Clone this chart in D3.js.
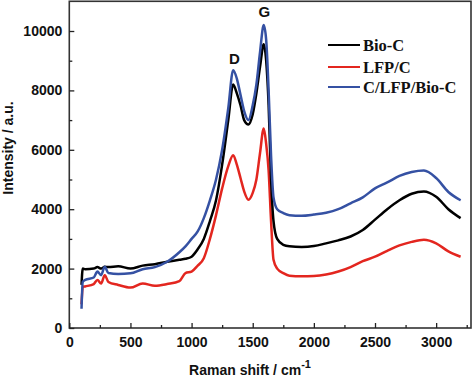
<!DOCTYPE html>
<html><head><meta charset="utf-8">
<script src="https://cdn.jsdelivr.net/npm/d3@7"></script>
<style>html,body{margin:0;padding:0;background:#fff;}</style>
</head><body>
<svg id="c" width="474" height="377"></svg>
<script>
const ramanShift = [100,110,130,200,230,260,290,320,400,500,600,700,800,900,950,1000,1050,1100,1150,1200,1250,1300,1340,1370,1400,1430,1465,1500,1530,1560,1590,1610,1630,1650,1670,1700,1750,1800,1900,2000,2100,2200,2300,2400,2500,2600,2700,2800,2900,3000,3100,3200];
const bioC = [1450,2000,1980,2000,2050,2000,2060,2050,2080,2000,2100,2150,2230,2300,2330,2400,2650,3000,3600,4300,5500,7000,8200,7900,7500,7000,6850,7200,7900,8800,9550,9000,7500,5000,3600,3000,2800,2750,2730,2760,2850,2950,3080,3300,3650,4000,4300,4520,4600,4420,4000,3700];
const lfpC = [800,1380,1400,1480,1620,1500,1780,1550,1450,1360,1500,1420,1480,1580,1850,1900,2100,2350,3000,3800,4700,5450,5820,5500,5050,4600,4320,4550,5000,5900,6720,6200,5300,3600,2300,2000,1850,1760,1740,1750,1800,1900,2050,2250,2400,2600,2780,2900,2970,2850,2580,2400];
const cLfpBioC = [650,1550,1620,1700,1900,1780,2060,1850,1820,1840,1980,2050,2230,2550,2750,3000,3250,3700,4300,5000,6000,7400,8680,8400,7850,7300,7000,7500,8200,9300,10200,9700,8000,5800,4400,4000,3870,3800,3780,3820,3880,4000,4200,4400,4700,4900,5120,5250,5300,5050,4580,4300];
const seriesNames = ["Bio-C","LFP/C","C/LFP/Bio-C"];
const seriesColors = ["#000000","#e3261f","#3551a3"];
const xTicks = [0,500,1000,1500,2000,2500,3000];
const yTicks = [0,2000,4000,6000,8000,10000];
const peakLabels = [{t:"D",x:1350,y:8900},{t:"G",x:1595,y:10480}];

const svg = d3.select("#c");
const L=69.3, R=471, T=1.3, B=328;
const x = d3.scaleLinear().domain([0,3285]).range([L,R]);
const y = d3.scaleLinear().domain([0,11000]).range([B,T]);

const seriesData = [bioC, lfpC, cLfpBioC];
const line = d3.line().x((d,i)=>x(ramanShift[i])).y(d=>y(d)).curve(d3.curveMonotoneX);
[1,0,2].forEach(k=>{
  svg.append("path").attr("d", line(seriesData[k])).attr("fill","none")
    .attr("stroke", seriesColors[k]).attr("stroke-width",2.5).attr("stroke-linejoin","round");
});

svg.append("rect").attr("x",L).attr("y",T).attr("width",R-L).attr("height",B-T)
  .attr("fill","none").attr("stroke","#333").attr("stroke-width",1.6);

const font = "'Liberation Sans', Arial, sans-serif";
const xAxis = d3.axisBottom(x).tickValues(d3.range(0,3285,250)).tickSize(-5).tickFormat(d=> xTicks.includes(d)? d : "");
const gx = svg.append("g").attr("transform",`translate(0,${B})`).call(xAxis);
gx.select(".domain").remove();
gx.selectAll(".tick line").attr("stroke","#222").attr("stroke-width",1.3).attr("y2", d=> xTicks.includes(d)? -5 : -3);
gx.selectAll(".tick text").attr("y",9).attr("font-family",font).attr("font-weight","bold").attr("font-size","14px").attr("fill","#111");

const yAxis = d3.axisLeft(y).tickValues(d3.range(0,11000,1000)).tickSize(-5).tickFormat(d=> yTicks.includes(d)? d : "");
const gy = svg.append("g").attr("transform",`translate(${L},0)`).call(yAxis);
gy.select(".domain").remove();
gy.selectAll(".tick line").attr("stroke","#222").attr("stroke-width",1.3).attr("x2", d=> yTicks.includes(d)? 5 : 3);
gy.selectAll(".tick text").attr("x",-7).attr("font-family",font).attr("font-weight","bold").attr("font-size","14px").attr("fill","#111");

const xt = svg.append("text").attr("x",250).attr("y",375).attr("text-anchor","middle")
  .attr("font-family",font).attr("font-weight","bold").attr("font-size","14px").attr("fill","#111");
xt.append("tspan").text("Raman shift / cm");
xt.append("tspan").attr("dy",-7).attr("font-size","11px").text("-1");

svg.append("text").attr("transform","translate(13,148) rotate(-90)").attr("text-anchor","middle")
  .attr("font-family",font).attr("font-weight","bold").attr("font-size","14px").attr("fill","#111")
  .text("Intensity / a.u.");

peakLabels.forEach(p=>{
  svg.append("text").attr("x",x(p.x)).attr("y",y(p.y)).attr("text-anchor","middle")
    .attr("font-family",font).attr("font-weight","bold").attr("font-size","15px").attr("fill","#111").text(p.t);
});

const ly=[45,67,87];
seriesNames.forEach((n,i)=>{
  svg.append("line").attr("x1",328).attr("x2",360).attr("y1",ly[i]).attr("y2",ly[i])
    .attr("stroke",seriesColors[i]).attr("stroke-width",2);
  svg.append("text").attr("x",363).attr("y",ly[i]+5.5).attr("font-family","'Liberation Serif','Times New Roman',serif")
    .attr("font-weight","bold").attr("font-size","16.5px").attr("fill","#111").text(n);
});
</script>
</body></html>
